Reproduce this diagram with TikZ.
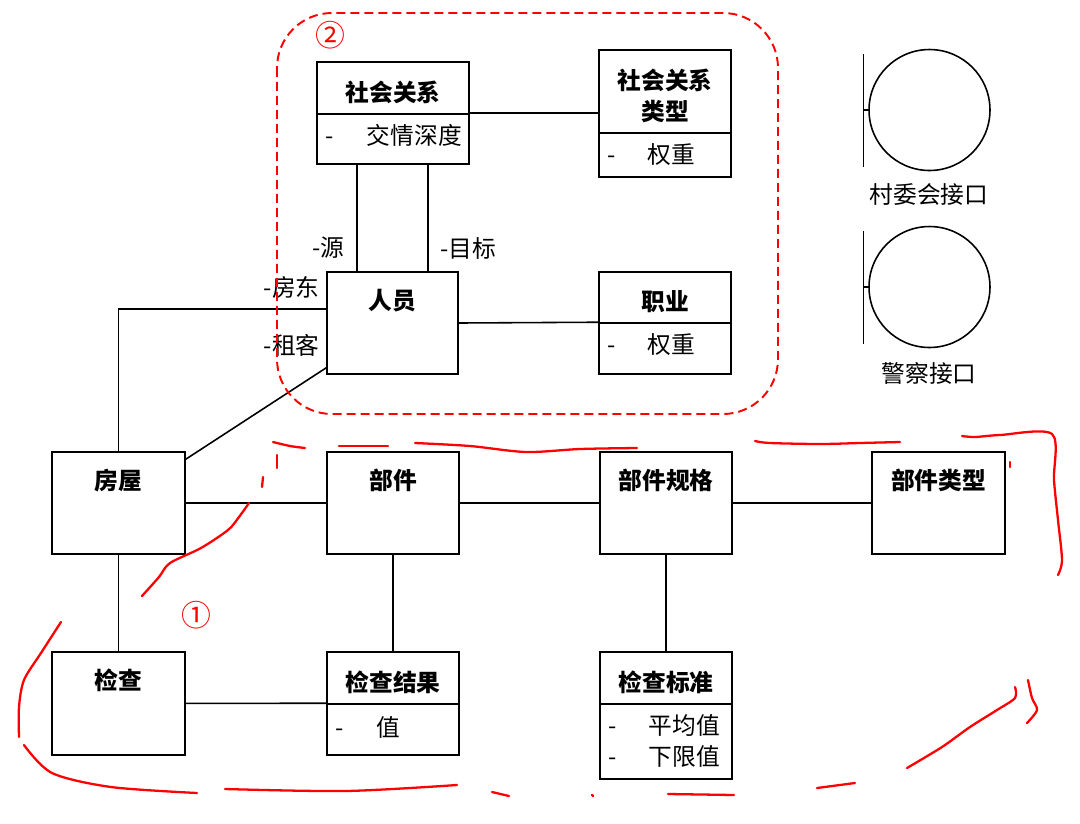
\documentclass[tikz,border=0pt]{standalone}
\usepackage{fontspec}
\setmainfont{Noto Sans CJK SC}
\begin{document}
\begin{tikzpicture}[x=0.02cm,y=-0.02cm,line width=0.9pt,
  cmp/.style={draw,inner sep=0pt},
  ttl/.style={inner sep=0pt,align=center,font=\bfseries\fontsize{13.5}{17.6}\selectfont},
  attr/.style={inner sep=0pt,anchor=west,font=\fontsize{13.5}{17.6}\selectfont},
  txt/.style={inner sep=1pt,font=\fontsize{13.5}{17.6}\selectfont},
  note/.style={red,inner sep=0pt,font=\fontsize{17}{20}\selectfont},
  hand/.style={red,line width=1.3pt,line cap=round,line join=round}]
\useasboundingbox (0,0) rectangle (1080,823);
% upper group: social relations and persons
\node[cmp,minimum width=3.04cm,minimum height=1.04cm] (relT) at (393,88) {};  \node[cmp,minimum width=3.04cm,minimum height=1cm] (relA) at (393,139) {};
\node[cmp,minimum width=2.64cm,minimum height=1.66cm] (rtyT) at (665,91.5) {}; \node[cmp,minimum width=2.64cm,minimum height=0.88cm] (rtyA) at (665,155) {};
\node[cmp,minimum width=2.62cm,minimum height=2.04cm] (psn) at (392.5,323) {};
\node[cmp,minimum width=2.64cm,minimum height=1.02cm] (jobT) at (665,297.5) {};  \node[cmp,minimum width=2.64cm,minimum height=1.02cm] (jobA) at (665,348.5) {};
% lower group: houses and checks
\node[cmp,minimum width=2.66cm,minimum height=2.04cm] (hse) at (118.5,503) {}; \node[cmp,minimum width=2.64cm,minimum height=2.04cm] (prt) at (393,503) {};
\node[cmp,minimum width=2.64cm,minimum height=2.04cm] (spc) at (666,503) {}; \node[cmp,minimum width=2.66cm,minimum height=2.04cm] (pty) at (938.5,503) {};
\node[cmp,minimum width=2.66cm,minimum height=2.06cm] (chk) at (118.5,703.5) {};
\node[cmp,minimum width=2.64cm,minimum height=1.04cm] (resT) at (393,678) {}; \node[cmp,minimum width=2.64cm,minimum height=1.02cm] (resA) at (393,729.5) {};
\node[cmp,minimum width=2.64cm,minimum height=1.04cm] (stdT) at (666,678) {}; \node[cmp,minimum width=2.64cm,minimum height=1.5cm] (stdA) at (666,741.5) {};
% titles
\foreach \B/\T in {relT/社会关系,rtyT/社会关系\\类型,jobT/职业,resT/检查结果,stdT/检查标准}{\node[ttl] at ([yshift=-0.08cm]\B) {\T};}
\foreach \B/\T in {psn/人员,hse/房屋,prt/部件,spc/部件规格,pty/部件类型,chk/检查}{\node[ttl] at ([yshift=-0.58cm]\B.north) {\T};}
% attributes
\node[attr] at ([xshift=0.16cm,yshift=0.08cm]relA.west) {\makebox[0.84cm][l]{-}交情深度};
\node[attr] at ([xshift=0.16cm]rtyA.west) {\makebox[0.82cm][l]{-}权重};
\node[attr] at ([xshift=0.16cm,yshift=0.07cm]jobA.west) {\makebox[0.82cm][l]{-}权重};
\node[attr] at ([xshift=0.16cm,yshift=0.04cm]resA.west) {\makebox[0.84cm][l]{-}值};
\node[attr] at ([xshift=0.16cm,yshift=0.32cm]stdA.west) {\makebox[0.82cm][l]{-}平均值};
\node[attr] at ([xshift=0.16cm,yshift=-0.3cm]stdA.west) {\makebox[0.82cm][l]{-}下限值};
% associations
\draw (relA.north east) -- (relA.north east -| rtyT.west);
\draw ([xshift=-0.72cm]relA.south) -- ([xshift=-0.72cm]relA.south |- psn.north);
\draw ([xshift=0.7cm]relA.south) -- ([xshift=0.7cm]relA.south |- psn.north);
\draw (psn.east) -- (jobA.north west);
\draw (hse.north) |- ([yshift=0.28cm]psn.west);
\draw ([yshift=-0.16cm]hse.north east) -- ([yshift=0.14cm]psn.south west);
\foreach \A/\B in {hse/prt,prt/spc,spc/pty,hse/chk,prt/resT,spc/stdT}{\draw (\A) -- (\B);}
\draw (chk) -- (resA.north west);
% role names
\node[txt,anchor=east] at (347,248) {-源};
\node[txt,anchor=west] at (438,248) {-目标};
\node[txt,anchor=east] at (322,287) {-房东};
\node[txt,anchor=east] at (322,345) {-租客};
% interfaces
\node[cmp,circle,minimum size=2.42cm] (vil) at (929.5,110) {};
\coordinate (vilT) at (863.5,54); \coordinate (vilB) at (863.5,167);
\draw (vilT) -- (vilB); \draw (vil.west) -- (vil.west -| vilT);
\node[txt] (vilL) at (929,195) {村委会接口};
\node[cmp,circle,minimum size=2.42cm] (pol) at (929.5,287) {};
\coordinate (polT) at (863.5,231); \coordinate (polB) at (863.5,344);
\draw (polT) -- (polB); \draw (pol.west) -- (pol.west -| polT);
\node[txt] (polL) at (929,373) {警察接口};
% red marks
\draw[red,line width=1.1pt,dash pattern=on 0.18cm off 0.1cm,rounded corners=1.1cm] (277,13) rectangle (778,414);
\node[note] (n2) at (330,35) {②};
\node[note] (n1) at (196,615) {①};
\draw[hand] plot[smooth] coordinates {(273,442) (290,446) (305,448)};
\draw[hand] plot[smooth] coordinates {(339,446) (388,446)};
\draw[hand] plot[smooth] coordinates {(415,443) (470,446) (526,452) (580,449) (637,448)};
\draw[hand] plot[smooth] coordinates {(755,441) (770,443) (820,444) (860,443) (900,442)};
\draw[hand] plot[smooth] coordinates {(962,436) (975,437) (1000,435) (1052,434) (1054,480) (1058,520) (1062,560) (1058,575)};
\draw[hand] (1010,462) -- (1010,467);
\draw[hand] (277,455) -- (277,468);
\draw[hand] (263,477) -- (262,487);
\draw[hand] plot[smooth] coordinates {(249,503) (239,517) (228,530) (201,548) (170,563) (159,577) (142,596)};
\draw[hand] plot[smooth] coordinates {(61,622) (41,653) (24,680) (19,707) (19,737)};
\draw[hand] plot[smooth] coordinates {(24,745) (52,773) (111,787) (197,793)};
\draw[hand] plot[smooth] coordinates {(225,789) (346,791) (457,785)};
\draw[hand] (492,792) -- (509,796);
\draw[hand] (592,795) -- (593,796);
\draw[hand] (668,794) -- (734,795);
\draw[hand] (817,788) -- (855,783);
\draw[hand] plot[smooth] coordinates {(907,768) (942,747) (970,727) (997,710) (1015,698) (1015,687)};
\draw[hand] plot[smooth] coordinates {(1028,680) (1032,698) (1037,710) (1027,723)};
\end{tikzpicture}
\end{document}
